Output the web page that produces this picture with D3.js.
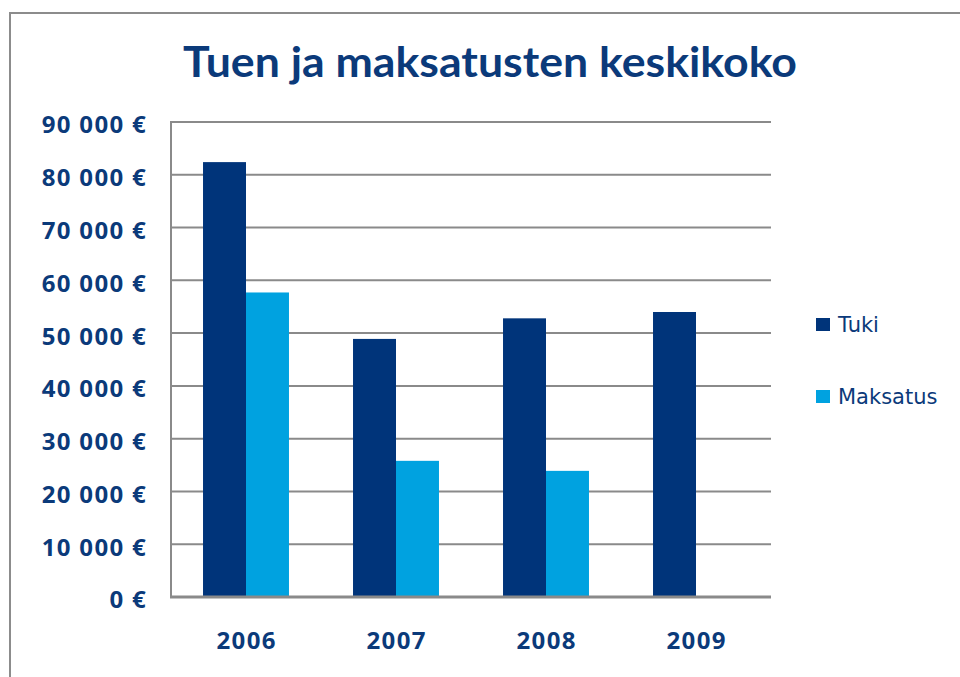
<!DOCTYPE html>
<html><head><meta charset="utf-8">
<script src="https://cdn.jsdelivr.net/npm/d3@7/dist/d3.min.js"></script>
<style>body{margin:0;background:#fff}svg{display:block}</style>
</head><body>
<svg id="chart" width="960" height="677"></svg>
<script>
const categories = ["2006", "2007", "2008", "2009"];
const seriesNames = ["Tuki", "Maksatus"];
const tuki = [82400, 48900, 52800, 54000];
const maksatus = [57700, 25800, 23900, null];
const yTicks = [0, 10000, 20000, 30000, 40000, 50000, 60000, 70000, 80000, 90000];
const titleText = "Tuen ja maksatusten keskikoko";

(function () {
const colors = ["#00347A", "#00A2E0"];
const textColor = "#0B3A7A";
const svg = d3.select("#chart");

// outer border
svg.append("path").attr("d", "M10,680 V13 H965").attr("fill", "none")
  .attr("stroke", "#8c8c8c").attr("stroke-width", 2);

const pLeft = 171, pRight = 771, pTop = 122, pBottom = 597;
const x0 = d3.scaleBand().domain(categories).range([pLeft, pRight]).paddingInner(0.427).paddingOuter(0.2135);
const x1 = d3.scaleBand().domain(seriesNames).range([0, x0.bandwidth()]);
const y = d3.scaleLinear().domain([0, 90000]).range([pBottom, pTop]);

// title
svg.append("text").attr("x", 490).attr("y", 77).attr("text-anchor", "middle")
  .attr("font-family", "Lato, 'Open Sans', sans-serif").attr("font-weight", "bold")
  .attr("font-size", 42).attr("fill", textColor)
  .attr("textLength", 614).attr("lengthAdjust", "spacingAndGlyphs")
  .text(titleText);

// gridlines
svg.append("g").selectAll("line").data(yTicks.filter(d => d > 0)).join("line")
  .attr("x1", pLeft).attr("x2", pRight).attr("y1", d => y(d)).attr("y2", d => y(d))
  .attr("stroke", "#8a8a8a").attr("stroke-width", 2);

// y axis line
svg.append("line").attr("x1", pLeft).attr("x2", pLeft).attr("y1", pTop - 1).attr("y2", pBottom + 1)
  .attr("stroke", "#8a8a8a").attr("stroke-width", 2);

// y labels
const fmt = d => d3.format(",")(d).replace(/,/g, " ") + " €";
svg.append("g").selectAll("text").data(yTicks).join("text")
  .attr("x", 147).attr("y", d => y(d) + 3).attr("dy", "0.35em").attr("text-anchor", "end")
  .attr("font-family", "'Open Sans', sans-serif").attr("font-weight", "bold")
  .attr("font-size", 24).attr("letter-spacing", 1.3).attr("fill", textColor)
  .text(fmt);

// bars
const data = categories.map((c, i) => ({cat: c, vals: [tuki[i], maksatus[i]]}));
const groups = svg.append("g").selectAll("g").data(data).join("g")
  .attr("transform", d => `translate(${x0(d.cat)},0)`);
groups.selectAll("rect").data(d => d.vals.map((v, j) => ({name: seriesNames[j], v, j})).filter(e => e.v != null))
  .join("rect")
  .attr("x", e => x1(e.name)).attr("width", x1.bandwidth())
  .attr("y", e => y(e.v)).attr("height", e => y(0) - y(e.v))
  .attr("fill", e => colors[e.j]);

// x axis baseline
svg.append("line").attr("x1", pLeft - 1).attr("x2", pRight).attr("y1", pBottom).attr("y2", pBottom)
  .attr("stroke", "#8a8a8a").attr("stroke-width", 3);

// x labels
svg.append("g").selectAll("text").data(categories).join("text")
  .attr("x", d => x0(d) + x0.bandwidth() / 2 + 0.65).attr("y", 649).attr("text-anchor", "middle")
  .attr("font-family", "'Open Sans', sans-serif").attr("font-weight", "bold")
  .attr("font-size", 24).attr("letter-spacing", 1.3).attr("fill", textColor)
  .text(d => d);

// legend
const leg = svg.append("g").selectAll("g").data(seriesNames).join("g")
  .attr("transform", (d, i) => `translate(816,${318 + i * 72})`);
leg.append("rect").attr("width", 14).attr("height", 13).attr("fill", (d, i) => colors[i]);
leg.append("text").attr("x", 22).attr("y", 7).attr("dy", "0.35em")
  .attr("font-family", "'DejaVu Sans', sans-serif").attr("font-size", 21).attr("fill", textColor)
  .text(d => d);
})();
</script>
</body></html>
